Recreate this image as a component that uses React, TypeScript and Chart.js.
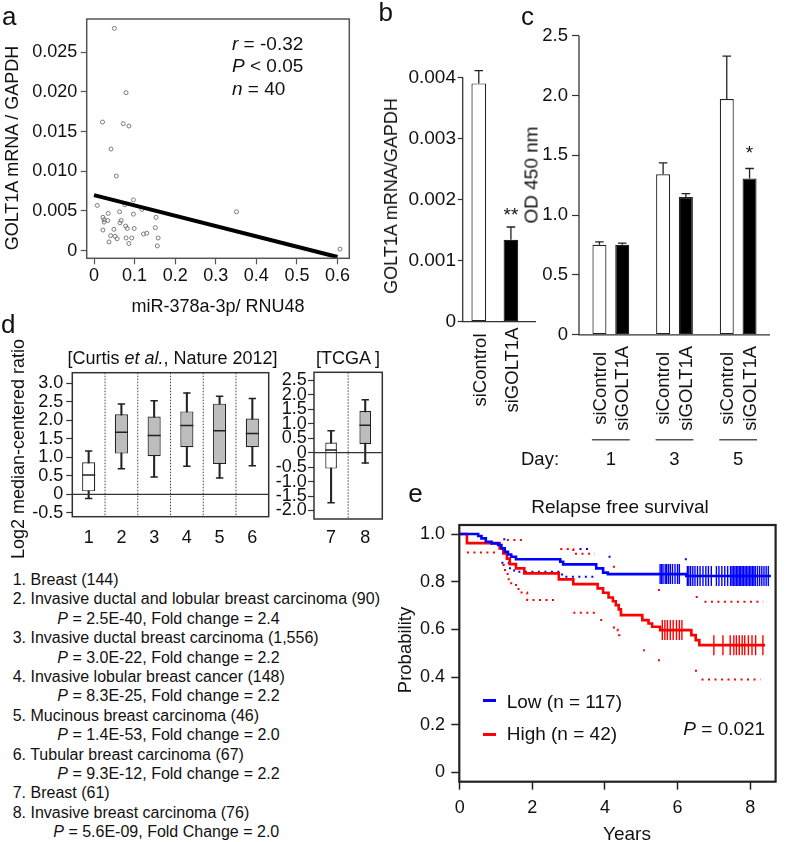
import React, { useEffect, useRef } from 'react';
import { Chart, registerables } from 'chart.js';

Chart.register(...registerables);

const FONT = '"Liberation Sans", Arial, Helvetica, sans-serif';
Chart.defaults.font.family = FONT;
Chart.defaults.color = '#111';

// ---------------- Panel a : scatter ----------------
const aMiR = [0.050, 0.079, 0.021, 0.072, 0.086, 0.042, 0.055, 0.008, 0.097, 0.076, 0.035, 0.063, 0.097, 0.153, 0.022, 0.025, 0.034, 0.067, 0.025, 0.064, 0.078, 0.082, 0.099, 0.151, 0.022, 0.049, 0.122, 0.130, 0.041, 0.052, 0.057, 0.079, 0.093, 0.158, 0.037, 0.086, 0.156, 0.118, 0.351, 0.606];
const aGolt = [0.0280, 0.0199, 0.0162, 0.0160, 0.0157, 0.0128, 0.0094, 0.0057, 0.0064, 0.0058, 0.0047, 0.0049, 0.0046, 0.0042, 0.0042, 0.0039, 0.0038, 0.0038, 0.0036, 0.0035, 0.0031, 0.0028, 0.0028, 0.0029, 0.0026, 0.0027, 0.0021, 0.0022, 0.0019, 0.0018, 0.0015, 0.0016, 0.0016, 0.0016, 0.0011, 0.0009, 0.0006, 0.0052, 0.0049, 0.0002];
const aFitX = [0, 0.6];
const aFitY = [0.0070, -0.0008];
const aXTicks = [0, 0.1, 0.2, 0.3, 0.4, 0.5, 0.6];
const aXTickLabels = ['0', '0.1', '0.2', '0.3', '0.4', '0.5', '0.6'];
const aYTicks = [0, 0.005, 0.01, 0.015, 0.02, 0.025];
const aYTickLabels = ['0', '0.005', '0.010', '0.015', '0.020', '0.025'];

// ---------------- Panel b : knockdown bars ----------------
const bGroups = ['siControl', 'siGOLT1A'];
const bMean = [0.0039, 0.00134];
const bErr = [0.00021, 0.00021];
const bSig = ['', '**'];
const bYTicks = [0, 0.001, 0.002, 0.003, 0.004];
const bYTickLabels = ['0', '0.001', '0.002', '0.003', '0.004'];

// ---------------- Panel c : proliferation ----------------
const cDays = ['1', '3', '5'];
const cSeries = ['siControl', 'siGOLT1A'];
const cControl = [0.753, 1.342, 1.970];
const cControlErr = [0.023, 0.095, 0.36];
const cGolt = [0.753, 1.152, 1.306];
const cGoltErr = [0.014, 0.028, 0.084];
const cControlSig = ['', '', ''];
const cGoltSig = ['', '', '*'];
const cYTicks = [0, 0.5, 1, 1.5, 2, 2.5];
const cYTickLabels = ['0', '0.5', '1.0', '1.5', '2.0', '2.5'];

// ---------------- Panel d : box plots ----------------
const dLeftLabels = ['1', '2', '3', '4', '5', '6'];
const dLeftWhiskLo = [-0.11, 0.69, 0.47, 0.76, 0.44, 0.77];
const dLeftQ1 = [0.08, 1.10, 1.03, 1.27, 0.82, 1.27];
const dLeftMed = [0.52, 1.68, 1.59, 1.86, 1.72, 1.64];
const dLeftQ3 = [0.865, 2.16, 2.10, 2.24, 2.45, 2.05];
const dLeftWhiskHi = [1.17, 2.44, 2.53, 2.74, 2.65, 2.59];
const dLeftTicks = [-0.5, 0, 0.5, 1, 1.5, 2, 2.5, 3];
const dLeftTickLabels = ['-0.5', '0', '0.5', '1.0', '1.5', '2.0', '2.5', '3.0'];

const dRightLabels = ['7', '8'];
const dRightWhiskLo = [-1.73, -0.36];
const dRightQ1 = [-0.55, 0.30];
const dRightMed = [0.09, 0.95];
const dRightQ3 = [0.35, 1.44];
const dRightWhiskHi = [0.76, 1.83];
const dRightTicks = [-2, -1.5, -1, -0.5, 0, 0.5, 1, 1.5, 2, 2.5];
const dRightTickLabels = ['-2.0', '-1.5', '-1.0', '-0.5', '0', '0.5', '1.0', '1.5', '2.0', '2.5'];

const dList = [
  ['1. Breast (144)', ''],
  ['2. Invasive ductal and lobular breast carcinoma (90)', ''],
  ['', ' = 2.5E-40, Fold change = 2.4'],
  ['3. Invasive ductal breast carcinoma (1,556)', ''],
  ['', ' = 3.0E-22, Fold change = 2.2'],
  ['4. Invasive lobular breast cancer (148)', ''],
  ['', ' = 8.3E-25, Fold change = 2.2'],
  ['5. Mucinous breast carcinoma (46)', ''],
  ['', ' = 1.4E-53, Fold change = 2.0'],
  ['6. Tubular breast carcinoma (67)', ''],
  ['', ' = 9.3E-12, Fold change = 2.2'],
  ['7. Breast (61)', ''],
  ['8. Invasive breast carcinoma (76)', ''],
  ['', ' = 5.6E-09, Fold Change = 2.0'],
];

// ---------------- Panel e : Kaplan-Meier ----------------
const eLowCurve = [[0, 1], [0.51, 0.992], [0.6, 0.982], [0.72, 0.968], [0.88, 0.961], [1.06, 0.954], [1.15, 0.94], [1.24, 0.926], [1.33, 0.914], [1.42, 0.905], [1.55, 0.894], [2.77, 0.884], [2.85, 0.873], [3.76, 0.856], [3.95, 0.838], [4.08, 0.832], [6.24, 0.824], [8.57, 0.824]];
const eHighCurve = [[0, 1], [0.2, 0.962], [1.1, 0.94], [1.2, 0.919], [1.3, 0.897], [1.38, 0.874], [1.55, 0.856], [1.78, 0.835], [2.73, 0.81], [3.13, 0.79], [3.8, 0.772], [3.95, 0.754], [4.1, 0.734], [4.22, 0.718], [4.3, 0.702], [4.38, 0.684], [4.44, 0.66], [5.03, 0.639], [5.2, 0.625], [5.3, 0.611], [5.52, 0.597], [6.38, 0.576], [6.5, 0.555], [6.6, 0.534], [8.41, 0.534]];
const eLowCensored = [5.52, 5.56, 5.6, 5.66, 5.7, 5.75, 5.8, 5.86, 5.93, 6.0, 6.05, 6.27, 6.31, 6.36, 6.42, 6.48, 6.55, 6.62, 6.7, 6.78, 6.85, 6.93, 7.07, 7.14, 7.22, 7.3, 7.38, 7.46, 7.5, 7.54, 7.58, 7.62, 7.66, 7.7, 7.74, 7.78, 7.82, 7.86, 7.9, 7.94, 7.98, 8.02, 8.06, 8.1, 8.14, 8.2, 8.26, 8.32, 8.38, 8.44, 8.5];
const eHighCensored = [5.58, 5.65, 5.72, 5.8, 5.88, 5.97, 6.05, 6.12, 7.0, 7.25, 7.45, 7.55, 7.62, 7.7, 7.78, 7.85, 7.95, 8.05, 8.15, 8.35];
const eLowUpperCI = [[1.2, 0.978], [1.38, 0.978], null, [3.3, 0.937], [3.56, 0.937], null, [4.1, 0.905], [4.28, 0.905], null, [6.2, 0.894], [6.26, 0.894]];
const eLowLowerCI = [[1.15, 0.88], [1.35, 0.857], [1.5, 0.842], [2.77, 0.842], [2.82, 0.821], [3.8, 0.821]];
const eHighUpperCI = [[1.3, 0.975], [1.8, 0.975], null, [2.77, 0.937], [3.1, 0.937], [3.13, 0.917], [3.72, 0.917], null, [4.22, 0.863], [4.28, 0.863], null, [5.46, 0.765], [5.52, 0.765], null, [6.5, 0.736], [6.56, 0.736], null, [6.74, 0.716], [8.36, 0.716]];
const eHighLowerCI = [[0.2, 0.923], [1.05, 0.923], null, [1.18, 0.87], [1.22, 0.849], [1.32, 0.81], [1.42, 0.786], [1.62, 0.755], [1.86, 0.723], [2.64, 0.723], null, [3.13, 0.67], [3.75, 0.67], null, [3.87, 0.639], [3.93, 0.639], null, [4.22, 0.608], [4.28, 0.6], [4.35, 0.575], [4.4, 0.56], null, [5.05, 0.513], [5.1, 0.513], null, [5.46, 0.471], [5.52, 0.471], null, [6.48, 0.426], [6.54, 0.426], null, [6.66, 0.39], [8.28, 0.39]];
const eXTicks = [0, 2, 4, 6, 8];
const eXTickLabels = ['0', '2', '4', '6', '8'];
const eYTicks = [0, 0.2, 0.4, 0.6, 0.8, 1.0];
const eYTickLabels = ['0', '0.2', '0.4', '0.6', '0.8', '1.0'];

const BLUE = '#0000ff';
const RED = '#ff0000';

// ---------------- layout helpers ----------------
type Rect = { x: number; y: number; w: number; h: number };
type Area = { L: number; T: number; R: number; B: number };

function zeroPad(s: any) {
  s.paddingTop = 0; s.paddingBottom = 0; s.paddingLeft = 0; s.paddingRight = 0;
}
function frame(rect: Rect, area: Area) {
  const yW = area.L - rect.x;
  const xH = rect.y + rect.h - area.B;
  return {
    layout: { padding: { left: 0, top: area.T - rect.y, right: rect.x + rect.w - area.R, bottom: 0 } },
    fitY: (s: any) => { s.width = yW; zeroPad(s); },
    fitX: (s: any) => { s.height = xH; zeroPad(s); },
  };
}
function baseOptions(f: any) {
  return {
    responsive: false,
    animation: false,
    devicePixelRatio: 1,
    events: [],
    layout: f.layout,
    plugins: { legend: { display: false }, tooltip: { enabled: false }, title: { display: false } },
  };
}
function linAxis(o: any) {
  return {
    type: 'linear',
    min: o.min,
    max: o.max,
    bounds: 'data',
    afterFit: o.fit,
    afterBuildTicks: (s: any) => { s.ticks = o.ticks.map((v: number) => ({ value: v })); },
    ticks: {
      callback: (_v: any, i: number) => o.labels[i],
      font: { size: o.size },
      padding: o.pad,
      autoSkip: false,
      maxRotation: 0,
      color: '#111',
    },
    grid: {
      drawOnChartArea: false,
      drawTicks: true,
      tickLength: o.tickLen,
      tickColor: o.color,
      tickWidth: o.tickWidth || 1.2,
      color: o.color,
    },
    border: { display: false },
  };
}
const boxPlugin = (color: string, width: number) => ({
  id: 'frameBox',
  afterDraw(chart: any) {
    const { ctx, chartArea: a } = chart;
    ctx.save();
    ctx.strokeStyle = color;
    ctx.lineWidth = width;
    ctx.strokeRect(a.left, a.top, a.right - a.left, a.bottom - a.top);
    ctx.restore();
  },
});

// ---------------- rects ----------------
const RECT_A: Rect = { x: 0, y: 0, w: 380, h: 300 };
const AREA_A: Area = { L: 86.7, T: 19, R: 349.3, B: 258.3 };
const RECT_B: Rect = { x: 380, y: 55, w: 160, h: 370 };
const AREA_B: Area = { L: 462.7, T: 77.3, R: 527, B: 321.7 };
const RECT_C: Rect = { x: 500, y: 20, w: 287, h: 460 };
const AREA_C: Area = { L: 579, T: 35.7, R: 770, B: 334.8 };
const RECT_DL: Rect = { x: 0, y: 340, w: 285, h: 220 };
const AREA_DL: Area = { L: 72.3, T: 372.7, R: 268.7, B: 516.7 };
const RECT_DR: Rect = { x: 265, y: 340, w: 125, h: 220 };
const AREA_DR: Area = { L: 314, T: 372.3, R: 382.3, B: 519 };
const RECT_E: Rect = { x: 390, y: 512, w: 397, h: 330 };
const AREA_E: Area = { L: 459.3, T: 525, R: 780.7, B: 781.7 };

// ---------------- chart builders ----------------
function buildA() {
  const f = frame(RECT_A, AREA_A);
  return {
    type: 'scatter',
    data: {
      datasets: [
        {
          type: 'line',
          data: aFitX.map((x, i) => ({ x, y: aFitY[i] })),
          borderColor: '#000',
          borderWidth: 4,
          pointRadius: 0,
          showLine: true,
          borderCapStyle: 'butt',
        },
        {
          data: aMiR.map((x, i) => ({ x, y: aGolt[i] })),
          pointStyle: 'circle',
          pointRadius: 2,
          borderColor: '#7a7a7a',
          backgroundColor: 'rgba(255,255,255,0)',
          borderWidth: 1,
        },
      ],
    },
    options: {
      ...baseOptions(f),
      scales: {
        x: linAxis({ min: -0.018, max: 0.629, ticks: aXTicks, labels: aXTickLabels, fit: f.fitX, size: 18, pad: 1, tickLen: 6, color: '#555' }),
        y: linAxis({ min: -0.00096, max: 0.02918, ticks: aYTicks, labels: aYTickLabels, fit: f.fitY, size: 18, pad: 3.4, tickLen: 6, color: '#555' }),
      },
    },
    plugins: [boxPlugin('#555', 1.5)],
  };
}

function drawRotated(ctx: any, text: string, x: number, y: number, size: number) {
  ctx.save();
  ctx.translate(x, y);
  ctx.rotate(-Math.PI / 2);
  ctx.font = `${size}px ${FONT}`;
  ctx.fillStyle = '#111';
  ctx.textAlign = 'center';
  ctx.textBaseline = 'middle';
  ctx.fillText(text, 0, 0);
  ctx.restore();
}

function drawErr(ctx: any, x: number, yFrom: number, yTo: number) {
  ctx.beginPath();
  ctx.moveTo(x, yFrom);
  ctx.lineTo(x, yTo);
  ctx.moveTo(x - 4.3, yTo);
  ctx.lineTo(x + 4.3, yTo);
  ctx.stroke();
}

function buildB() {
  const f = frame(RECT_B, AREA_B);
  const decor = {
    id: 'decorB',
    afterDatasetsDraw(chart: any) {
      const { ctx, chartArea: a, scales: { y } } = chart;
      const y0 = y.getPixelForValue(0);
      ctx.save();
      ctx.strokeStyle = '#333';
      ctx.lineWidth = 1.3;
      ctx.beginPath();
      ctx.moveTo(a.left, y.getPixelForValue(bYTicks[bYTicks.length - 1]));
      ctx.lineTo(a.left, y0);
      ctx.lineTo(a.right + 9, y0);
      ctx.stroke();
      const meta = chart.getDatasetMeta(0);
      meta.data.forEach((bar: any, i: number) => {
        const top = y.getPixelForValue(bMean[i] + bErr[i]);
        ctx.strokeStyle = '#222';
        drawErr(ctx, bar.x, bar.y, top);
        if (bSig[i]) {
          ctx.font = `19px ${FONT}`;
          ctx.fillStyle = '#111';
          ctx.textAlign = 'center';
          ctx.textBaseline = 'middle';
          ctx.fillText(bSig[i], bar.x, top - 11.7);
        }
        drawRotated(ctx, chart.data.labels[i], bar.x + 2, a.bottom + 48.3, 18.5);
      });
      ctx.restore();
    },
  };
  return {
    type: 'bar',
    data: {
      labels: bGroups,
      datasets: [
        {
          data: bMean,
          backgroundColor: (c: any) => (c.dataIndex === 0 ? '#ffffff' : '#000000'),
          borderColor: '#222',
          borderWidth: 1.2,
          borderSkipped: false,
          barPercentage: 0.457,
          categoryPercentage: 1,
        },
      ],
    },
    options: {
      ...baseOptions(f),
      scales: {
        x: { type: 'category', afterFit: f.fitX, ticks: { display: false }, grid: { display: false, drawTicks: false }, border: { display: false } },
        y: linAxis({ min: 0, max: 0.004, ticks: bYTicks, labels: bYTickLabels, fit: f.fitY, size: 19, pad: 1.7, tickLen: 5, color: '#333' }),
      },
    },
    plugins: [decor],
  };
}

function buildC() {
  const f = frame(RECT_C, AREA_C);
  const vals = [cControl, cGolt];
  const errs = [cControlErr, cGoltErr];
  const sigs = [cControlSig, cGoltSig];
  const decor = {
    id: 'decorC',
    afterDatasetsDraw(chart: any) {
      const { ctx, chartArea: a, scales: { x, y } } = chart;
      const y0 = y.getPixelForValue(0);
      ctx.save();
      ctx.strokeStyle = '#333';
      ctx.lineWidth = 1.3;
      ctx.beginPath();
      ctx.moveTo(a.left, y.getPixelForValue(cYTicks[cYTicks.length - 1]));
      ctx.lineTo(a.left, y0);
      ctx.lineTo(a.right, y0);
      ctx.stroke();
      chart.data.datasets.forEach((ds: any, di: number) => {
        chart.getDatasetMeta(di).data.forEach((bar: any, i: number) => {
          const top = y.getPixelForValue(vals[di][i] + errs[di][i]);
          ctx.strokeStyle = '#222';
          ctx.lineWidth = 1.3;
          drawErr(ctx, bar.x, bar.y, top);
          if (sigs[di][i]) {
            ctx.font = `19px ${FONT}`;
            ctx.fillStyle = '#111';
            ctx.textAlign = 'center';
            ctx.textBaseline = 'middle';
            ctx.fillText(sigs[di][i], bar.x, top - 15);
          }
          drawRotated(ctx, ds.label, bar.x + 1, a.bottom + 53.5, 18.5);
        });
      });
      const m0 = chart.getDatasetMeta(0).data;
      const m1 = chart.getDatasetMeta(1).data;
      ctx.strokeStyle = '#555';
      ctx.lineWidth = 1.5;
      ctx.font = `18.5px ${FONT}`;
      ctx.fillStyle = '#111';
      ctx.textAlign = 'center';
      ctx.textBaseline = 'middle';
      chart.data.labels.forEach((lab: string, i: number) => {
        const ly = a.bottom + 105;
        ctx.beginPath();
        ctx.moveTo(m0[i].x - 7.5, ly);
        ctx.lineTo(m1[i].x + 7.5, ly);
        ctx.stroke();
        ctx.fillText(lab, x.getPixelForValue(i), a.bottom + 124.7);
      });
      ctx.fillText('Day:', a.left - 39, a.bottom + 124.7);
      ctx.restore();
    },
  };
  const barStyle = { borderColor: '#222', borderWidth: 1.2, borderSkipped: false, barPercentage: 0.614, categoryPercentage: 0.716 };
  return {
    type: 'bar',
    data: {
      labels: cDays,
      datasets: [
        { label: cSeries[0], data: cControl, backgroundColor: '#ffffff', ...barStyle },
        { label: cSeries[1], data: cGolt, backgroundColor: '#000000', ...barStyle },
      ],
    },
    options: {
      ...baseOptions(f),
      scales: {
        x: { type: 'category', afterFit: f.fitX, ticks: { display: false }, grid: { display: false, drawTicks: false }, border: { display: false } },
        y: linAxis({ min: 0, max: 2.5, ticks: cYTicks, labels: cYTickLabels, fit: f.fitY, size: 18.5, pad: 4, tickLen: 7, color: '#333' }),
      },
    },
    plugins: [decor],
  };
}

function buildBox(p: any) {
  const f = frame(p.rect, p.area);
  const slot = (p.area.R - p.area.L) / p.labels.length;
  const boxHalf = (slot * p.barPct) / 2;
  const pts = (data: number[], r: number) => ({
    type: 'line',
    data,
    showLine: false,
    pointStyle: 'line',
    pointRadius: r,
    pointBorderWidth: 1.5,
    pointBorderColor: '#222',
    pointBackgroundColor: '#222',
    borderColor: '#222',
  });
  const decor = {
    id: 'decorBox',
    beforeDatasetsDraw(chart: any) {
      const { ctx, chartArea: a, scales: { x } } = chart;
      ctx.save();
      ctx.strokeStyle = '#444';
      ctx.lineWidth = 1;
      ctx.setLineDash([1.5, 1.5]);
      for (let i = 0; i < p.labels.length - 1; i++) {
        const xx = (x.getPixelForValue(i) + x.getPixelForValue(i + 1)) / 2;
        ctx.beginPath();
        ctx.moveTo(xx, a.top);
        ctx.lineTo(xx, a.bottom);
        ctx.stroke();
      }
      ctx.restore();
    },
    afterDatasetsDraw(chart: any) {
      const { ctx, chartArea: a, scales: { y } } = chart;
      const y0 = y.getPixelForValue(0);
      ctx.save();
      ctx.strokeStyle = '#333';
      ctx.lineWidth = 1.3;
      ctx.beginPath();
      ctx.moveTo(a.left, y0);
      ctx.lineTo(a.right, y0);
      ctx.stroke();
      ctx.restore();
    },
  };
  return {
    type: 'bar',
    data: {
      labels: p.labels,
      datasets: [
        pts(p.med, boxHalf),
        pts(p.wHi, 3.7),
        pts(p.wLo, 3.7),
        {
          type: 'bar',
          data: p.q1.map((v: number, i: number) => [v, p.q3[i]]),
          grouped: false,
          barPercentage: p.barPct,
          categoryPercentage: 1,
          backgroundColor: (c: any) => (c.dataIndex === 0 ? '#ffffff' : '#bdbdbd'),
          borderColor: '#222',
          borderWidth: 1.2,
          borderSkipped: false,
        },
        {
          type: 'bar',
          data: p.wLo.map((v: number, i: number) => [v, p.wHi[i]]),
          grouped: false,
          barThickness: 1.4,
          backgroundColor: '#222',
          borderWidth: 0,
        },
      ],
    },
    options: {
      ...baseOptions(f),
      scales: {
        x: {
          type: 'category',
          afterFit: f.fitX,
          ticks: { font: { size: 18 }, padding: p.xPad, autoSkip: false, maxRotation: 0, color: '#111' },
          grid: { display: false, drawTicks: false },
          border: { display: false },
        },
        y: linAxis({ min: p.yMin, max: p.yMax, ticks: p.ticks, labels: p.tickLabels, fit: f.fitY, size: 18, pad: p.yPad, tickLen: 6, color: '#333' }),
      },
    },
    plugins: [decor, boxPlugin('#333', 1.5)],
  };
}

const buildDL = () =>
  buildBox({
    rect: RECT_DL, area: AREA_DL, labels: dLeftLabels,
    wLo: dLeftWhiskLo, q1: dLeftQ1, med: dLeftMed, q3: dLeftQ3, wHi: dLeftWhiskHi,
    yMin: -0.605, yMax: 3.286, ticks: dLeftTicks, tickLabels: dLeftTickLabels,
    barPct: 0.4, yPad: 3, xPad: 10.8,
  });
const buildDR = () =>
  buildBox({
    rect: RECT_DR, area: AREA_DR, labels: dRightLabels,
    wLo: dRightWhiskLo, q1: dRightQ1, med: dRightMed, q3: dRightQ3, wHi: dRightWhiskHi,
    yMin: -2.294, yMax: 2.78, ticks: dRightTicks, tickLabels: dRightTickLabels,
    barPct: 0.34, yPad: 1.3, xPad: 8.5,
  });

function toPts(arr: any[]) {
  let lastX = 0;
  return arr.map((p) => {
    if (p) { lastX = p[0]; return { x: p[0], y: p[1] }; }
    return { x: lastX, y: null };
  });
}
function survAt(curve: number[][], t: number) {
  let s = curve[0][1];
  for (const [x, y] of curve) if (x <= t) s = y;
  return s;
}

function buildE() {
  const f = frame(RECT_E, AREA_E);
  const censor = (times: number[], curve: number[][], color: string) => ({
    data: times.map((t) => ({ x: t, y: survAt(curve, t) })),
    showLine: false,
    pointStyle: 'line',
    pointRotation: 90,
    pointRadius: 10,
    pointBorderWidth: 1.4,
    pointBorderColor: color,
    borderColor: color,
  });
  const curve = (pts: number[][], color: string) => ({
    data: pts.map(([x, y]) => ({ x, y })),
    stepped: 'before',
    borderColor: color,
    borderWidth: 2.6,
    pointRadius: 0,
    fill: false,
  });
  const ci = (pts: any[], color: string) => ({
    data: toPts(pts),
    stepped: 'before',
    borderColor: color,
    borderWidth: 2,
    borderDash: [2, 4.5],
    pointRadius: 0,
    spanGaps: false,
    fill: false,
  });
  return {
    type: 'line',
    data: {
      datasets: [
        censor(eLowCensored, eLowCurve, BLUE),
        censor(eHighCensored, eHighCurve, RED),
        curve(eLowCurve, BLUE),
        curve(eHighCurve, RED),
        ci(eLowUpperCI, BLUE),
        ci(eLowLowerCI, BLUE),
        ci(eHighUpperCI, RED),
        ci(eHighLowerCI, RED),
      ],
    },
    options: {
      ...baseOptions(f),
      scales: {
        x: linAxis({ min: -0.01, max: 8.7, ticks: eXTicks, labels: eXTickLabels, fit: f.fitX, size: 18, pad: 7.8, tickLen: 8, color: '#222', tickWidth: 1.5 }),
        y: linAxis({ min: -0.039, max: 1.038, ticks: eYTicks, labels: eYTickLabels, fit: f.fitY, size: 18, pad: 6.3, tickLen: 8, color: '#222', tickWidth: 1.5 }),
      },
    },
    plugins: [boxPlugin('#222', 2.2)],
  };
}

// ---------------- React components ----------------
function ChartCanvas({ rect, build }: { rect: Rect; build: () => any }) {
  const ref = useRef<HTMLCanvasElement>(null);
  useEffect(() => {
    const chart = new Chart(ref.current as HTMLCanvasElement, build() as any);
    return () => chart.destroy();
  }, []);
  return (
    <canvas
      ref={ref}
      width={rect.w}
      height={rect.h}
      style={{ position: 'absolute', left: rect.x, top: rect.y, width: rect.w, height: rect.h }}
    />
  );
}

function T({ x, y, size = 18, rot = false, align = 'center', children }: any) {
  const tx = align === 'center' ? '-50%' : '0';
  return (
    <div
      style={{
        position: 'absolute',
        left: x,
        top: y,
        fontSize: size,
        lineHeight: 1,
        whiteSpace: 'nowrap',
        color: '#111',
        transform: `translate(${tx},-50%)${rot ? ' rotate(-90deg)' : ''}`,
      }}
    >
      {children}
    </div>
  );
}

export default function App() {
  return (
    <div
      style={{
        position: 'absolute',
        left: 0,
        top: 0,
        width: 787,
        height: 842,
        background: '#fff',
        overflow: 'hidden',
        fontFamily: FONT,
      }}
    >
      <ChartCanvas rect={RECT_A} build={buildA} />
      <ChartCanvas rect={RECT_B} build={buildB} />
      <ChartCanvas rect={RECT_C} build={buildC} />
      <ChartCanvas rect={RECT_DL} build={buildDL} />
      <ChartCanvas rect={RECT_DR} build={buildDR} />
      <ChartCanvas rect={RECT_E} build={buildE} />

      {/* panel letters */}
      <T x={9.2} y={16} size={26}>a</T>
      <T x={385.8} y={11.7} size={26}>b</T>
      <T x={527.5} y={16} size={26}>c</T>
      <T x={8.3} y={324} size={26}>d</T>
      <T x={415.5} y={492.7} size={26}>e</T>

      {/* panel a */}
      <T x={12} y={147.5} rot>GOLT1A mRNA / GAPDH</T>
      <T x={218} y={305.5}>miR-378a-3p/ RNU48</T>
      <T x={232} y={42.5} size={19} align="left"><i>r</i> = -0.32</T>
      <T x={232} y={65} size={19} align="left"><i>P</i> &lt; 0.05</T>
      <T x={232} y={88} size={19} align="left"><i>n</i> = 40</T>

      {/* panel b */}
      <T x={390.5} y={196} rot>GOLT1A mRNA/GAPDH</T>

      {/* panel c */}
      <T x={530.5} y={175} size={19} rot>OD 450 nm</T>

      {/* panel d */}
      <T x={172.5} y={358}>[Curtis <i>et al.</i>, Nature 2012]</T>
      <T x={348} y={358}>[TCGA ]</T>
      <T x={18.3} y={449} rot>Log2 median-centered ratio</T>
      {dList.map(([head, pLine], i) =>
        head ? (
          <T key={i} x={12.7} y={580 + i * 19.4} size={16} align="left">{head}</T>
        ) : (
          <T key={i} x={i === dList.length - 1 ? 53.3 : 57.3} y={580 + i * 19.4} size={16} align="left"><i>P</i>{pLine}</T>
        )
      )}

      {/* panel e */}
      <T x={620} y={506} size={19}>Relapse free survival</T>
      <T x={405} y={650} size={18.5} rot>Probability</T>
      <T x={627} y={833} size={19}>Years</T>
      <div style={{ position: 'absolute', left: 482.7, top: 699.2, width: 13.3, height: 3, background: BLUE }} />
      <div style={{ position: 'absolute', left: 482.7, top: 732.5, width: 13.3, height: 3, background: RED }} />
      <T x={506.7} y={701.3} size={19} align="left">Low (n = 117)</T>
      <T x={506.7} y={733.3} size={19} align="left">High (n = 42)</T>
      <T x={683.3} y={728.3} size={19} align="left"><i>P</i> = 0.021</T>
    </div>
  );
}
